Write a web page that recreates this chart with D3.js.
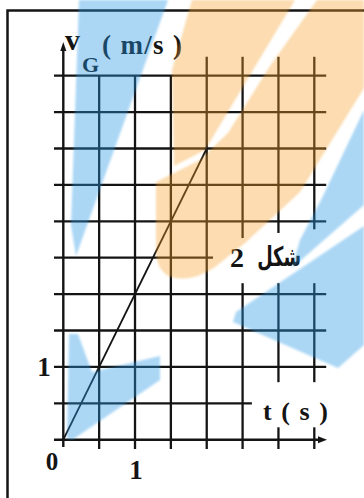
<!DOCTYPE html>
<html>
<head>
<meta charset="utf-8">
<script src="https://cdn.jsdelivr.net/npm/d3@7"></script>
<style>
  html, body { margin: 0; padding: 0; background: #fff; }
  svg { display: block; }
</style>
</head>
<body>
<svg id="chart" width="364" height="498"></svg>
<script>
// Velocity-time graph of G: v grows linearly from 0 to 4 m/s in 2 s.
const gridT = [0, 0.5, 1, 1.5, 2, 2.5, 3, 3.5];          // vertical grid lines (s)
const gridV = [0, 0.5, 1, 1.5, 2, 2.5, 3, 3.5, 4, 4.5, 5]; // horizontal grid lines (m/s)
const tTicks = [1];
const tTickLabels = ["1"];
const vTicks = [1];
const vTickLabels = ["1"];
const originLabel = "0";
const motionT = [0, 2];
const motionV = [0, 4];
const xTitle = "t ( s )";
const yTitleMain = "v";
const yTitleSub = "G";
const yTitleUnit = "( m/s )";
const figNumber = "2";
const figWord = "شكل";

const svg = d3.select("#chart");
const W = 364, H = 498;

const x = d3.scaleLinear().domain([0, 3.5]).range([63.3, 314.3]);
const y = d3.scaleLinear().domain([0, 5]).range([439.7, 75.7]);

const ink = "#141414";
const serif = "'Liberation Serif', 'Times New Roman', serif";

svg.append("rect").attr("width", W).attr("height", H).attr("fill", "#fff");

// frame around the figure
svg.append("rect")
  .attr("x", 7.5).attr("y", 10.5).attr("width", 420).attr("height", 600)
  .attr("fill", "none").attr("stroke", ink).attr("stroke-width", 2.5);

const grid = svg.append("g").attr("stroke", ink).attr("stroke-width", 2.3).attr("stroke-linecap", "butt");

// horizontal grid lines; some stop short to leave room for labels
const hEnd = v => (v === 2.5 ? 2.087 : v === 0.5 ? 2.63 : 3.666);
grid.selectAll("line.h").data(gridV.filter(v => v > 0)).join("line")
  .attr("class", "h")
  .attr("x1", x(-0.13)).attr("x2", d => x(hEnd(d)))
  .attr("y1", d => y(d)).attr("y2", d => y(d));

// vertical grid lines, split into segments around the labels
const vTop = t => (t >= 2 ? 5.26 : 5);
const vGaps = { 2.5: [[2.15, 2.77]], 3: [[2.15, 2.84], [0.17, 0.79]], 3.5: [[2.15, 2.89], [0.17, 0.79]] };
const vSegs = [];
gridT.filter(t => t > 0).forEach(t => {
  let top = vTop(t);
  const gaps = vGaps[t] || [];
  gaps.forEach(([lo, hi]) => { vSegs.push({ t, a: hi, b: top }); top = lo; });
  vSegs.push({ t, a: -0.128, b: top });
});
grid.selectAll("line.v").data(vSegs).join("line")
  .attr("class", "v")
  .attr("x1", d => x(d.t)).attr("x2", d => x(d.t))
  .attr("y1", d => y(d.a)).attr("y2", d => y(d.b));

// axes with arrows
const axes = svg.append("g").attr("stroke", ink).attr("stroke-width", 2.4);
axes.append("line")
  .attr("x1", x(0)).attr("x2", x(0)).attr("y1", y(-0.1)).attr("y2", 49);
axes.append("line")
  .attr("x1", x(-0.13)).attr("x2", 320).attr("y1", y(0)).attr("y2", y(0));
svg.append("path")
  .attr("d", `M${x(0)},42 L${x(0) - 3},51 L${x(0) + 3},51 Z`).attr("fill", ink);
svg.append("path")
  .attr("d", `M327,${y(0)} L318,${y(0) - 3.5} L318,${y(0) + 3.5} Z`).attr("fill", ink);

// v(t) line
svg.append("path")
  .datum(motionT.map((t, i) => [t, motionV[i]]))
  .attr("d", d3.line().x(d => x(d[0])).y(d => y(d[1])))
  .attr("fill", "none").attr("stroke", ink).attr("stroke-width", 1.8);

// labels
const txt = svg.append("g").attr("fill", ink).attr("font-family", serif).attr("font-weight", "bold");
txt.selectAll("text.vt").data(vTicks).join("text")
  .attr("class", "vt")
  .attr("x", 44).attr("y", d => y(d) + 9)
  .attr("text-anchor", "middle").attr("font-size", 27)
  .text((d, i) => vTickLabels[i]);
txt.selectAll("text.tt").data(tTicks).join("text")
  .attr("class", "tt")
  .attr("x", d => x(d) + 1).attr("y", 479)
  .attr("text-anchor", "middle").attr("font-size", 27)
  .text((d, i) => tTickLabels[i]);
txt.append("text").attr("x", 52).attr("y", 469.5)
  .attr("text-anchor", "middle").attr("font-size", 25).text(originLabel);

txt.append("text").attr("x", 263).attr("y", 420)
  .attr("font-size", 26).attr("textLength", 65).attr("lengthAdjust", "spacing")
  .text(xTitle);

txt.append("text").attr("x", 65).attr("y", 50).attr("font-size", 30).text(yTitleMain);
txt.append("text").attr("x", 82).attr("y", 71.5).attr("font-size", 22).text(yTitleSub);
txt.append("text").attr("x", 102).attr("y", 54)
  .attr("font-size", 27).attr("textLength", 80).attr("lengthAdjust", "spacing")
  .text(yTitleUnit);

txt.append("text").attr("x", 230).attr("y", 267).attr("font-size", 28).text(figNumber);
svg.append("g").attr("transform", "translate(301,266) scale(0.66,1)")
  .append("text")
  .attr("x", 0).attr("y", 0)
  .attr("text-anchor", "end")
  .attr("font-family", "'DejaVu Sans', sans-serif").attr("font-weight", "bold")
  .attr("font-size", 27).attr("fill", ink)
  .text(figWord);

// translucent logo stripes laid over the page
const defs = svg.append("defs");
defs.append("filter").attr("id", "soft")
  .append("feGaussianBlur").attr("stdDeviation", 1);

const logo = svg.append("g").attr("filter", "url(#soft)");
const orange = "rgb(247,161,43)", blue = "rgb(38,153,230)";
const shapes = [
  { c: blue,   d: "M79,0 L168,0 L76,256 L71,225 Z" },
  { c: blue,   d: "M69,334 L78,334 L92,372 L160,356 L160,380 L72,440 L67,438 Z" },
  { c: orange, d: "M192,0 L295,0 L205,150 L174,166 L172,70 Z" },
  { c: orange, d: "M317,0 L364,0 L364,88 L300,192 L245,243 L215,267 Q190,284 168,276 Q156,268 156,250 L156,182 L200,160 L228,133 L270,66 Z" },
  { c: blue,   d: "M364,110 L364,205 L292,268 L300,240 L322,198 Z" },
  { c: blue,   d: "M364,226 L364,345 L338,368 L233,322 L236,312 Z" }
];
logo.selectAll("path").data(shapes).join("path")
  .attr("d", d => d.d)
  .attr("fill", d => d.c)
  .attr("fill-opacity", d => (d.c === orange ? 0.37 : 0.39));
</script>
</body>
</html>
